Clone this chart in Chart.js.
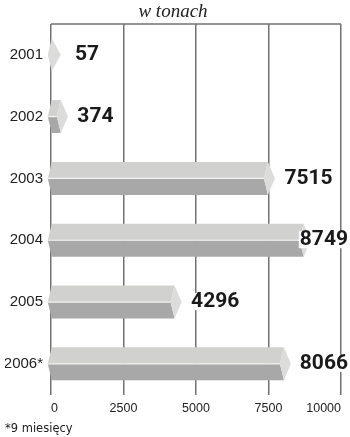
<!DOCTYPE html>
<html>
<head>
<meta charset="utf-8">
<script src="https://cdn.jsdelivr.net/npm/chart.js@4.4.6/dist/chart.umd.min.js"></script>
<style>
  html, body { margin: 0; padding: 0; background: #fff; }
  #wrap { width: 350px; height: 437px; }
</style>
</head>
<body>
<div id="wrap"><canvas id="chart"></canvas></div>
<script>
/* data */
const years = ['2001', '2002', '2003', '2004', '2005', '2006*'];
const tonnes = [57, 374, 7515, 8749, 4296, 8066];
const xTicks = [0, 2500, 5000, 7500, 10000];
const unitTitle = 'w tonach';
const footnote = '*9 miesięcy';

const gridColor = '#727272';

/* draws each bar as a grey hexagonal prism, then its value label */
const prismBars = {
  id: 'prismBars',
  beforeDatasetsDraw(chart) {
    const { ctx, chartArea } = chart;
    ctx.save();
    ctx.strokeStyle = gridColor;
    ctx.lineWidth = 1.5;
    ctx.beginPath();
    ctx.moveTo(chartArea.left, chartArea.top);
    ctx.lineTo(chartArea.right, chartArea.top);
    ctx.stroke();
    ctx.restore();
  },
  afterDatasetsDraw(chart) {
    const { ctx } = chart;
    const meta = chart.getDatasetMeta(0);
    ctx.save();
    meta.data.forEach((bar, i) => {
      const { x, y, base, height } = bar.getProps(['x', 'y', 'base', 'height'], true);
      const t = y - height / 2, bt = y + height / 2, d = 4;
      const xe = Math.max(x - 1, base);
      const tip = Math.max(x + 6, base + 9);

      // upper face
      ctx.fillStyle = '#d1d1cf';
      ctx.beginPath();
      ctx.moveTo(base, t);
      ctx.lineTo(xe, t);
      ctx.lineTo(xe - d, y);
      ctx.lineTo(base - d, y);
      ctx.closePath();
      ctx.fill();

      // lower face
      ctx.fillStyle = '#a8a8a8';
      ctx.beginPath();
      ctx.moveTo(base - d, y);
      ctx.lineTo(xe - d, y);
      ctx.lineTo(xe, bt);
      ctx.lineTo(base, bt);
      ctx.closePath();
      ctx.fill();

      // end face
      ctx.fillStyle = '#dcdcda';
      ctx.beginPath();
      ctx.moveTo(xe, t);
      ctx.lineTo(tip, y);
      ctx.lineTo(xe, bt);
      ctx.lineTo(xe - d, y);
      ctx.closePath();
      ctx.fill();

      // light edge between the faces
      ctx.strokeStyle = '#f4f4f4';
      ctx.lineWidth = 1.2;
      ctx.beginPath();
      ctx.moveTo(base - d, y);
      ctx.lineTo(xe - d, y);
      ctx.stroke();

      // value label
      const text = String(tonnes[i]);
      ctx.font = 'bold 21px Roboto';
      const w = ctx.measureText(text).width;
      let left = Math.max(x + 15.5, 75);
      left = Math.min(left, chart.width - 2 - w);
      ctx.fillStyle = '#fff';
      ctx.fillRect(left - 1, y - 9, w + 2, 17);
      ctx.fillStyle = '#1a1a1a';
      ctx.textAlign = 'left';
      ctx.textBaseline = 'middle';
      ctx.fillText(text, left, y);
    });
    ctx.restore();
  }
};

new Chart(document.getElementById('chart'), {
  type: 'bar',
  data: {
    labels: years,
    datasets: [{
      label: unitTitle,
      data: tonnes,
      backgroundColor: 'rgba(0,0,0,0)',
      borderWidth: 0,
      barThickness: 33
    }]
  },
  options: {
    indexAxis: 'y',
    responsive: true,
    maintainAspectRatio: false,
    animation: false,
    layout: { padding: { left: 5, right: 9, top: 0, bottom: 1 } },
    plugins: {
      legend: { display: false },
      tooltip: { enabled: false },
      title: {
        display: true,
        text: unitTitle,
        color: '#222',
        font: { family: 'Liberation Serif', size: 19, style: 'italic', weight: 'normal', lineHeight: 1.1 },
        padding: { top: 2, bottom: 1 }
      },
      subtitle: {
        display: true,
        text: footnote,
        position: 'bottom',
        align: 'start',
        color: '#222',
        font: { family: 'DejaVu Sans', size: 11.5, lineHeight: 1.15 },
        padding: 0
      }
    },
    scales: {
      x: {
        min: 0,
        max: 10000,
        afterBuildTicks: s => { s.ticks = xTicks.map(v => ({ value: v })); },
        afterFit: s => { s.height = 28; },
        grid: { color: gridColor, lineWidth: 1.5, drawTicks: false },
        border: { display: false },
        ticks: {
          color: '#222',
          align: 'inner',
          padding: 6,
          maxRotation: 0,
          callback: v => String(v),
          font: { family: 'Liberation Sans', size: 12.5 }
        }
      },
      y: {
        afterFit: s => { s.width = 46; },
        grid: { display: false, drawTicks: false },
        border: { display: false },
        ticks: {
          color: '#222',
          padding: 8,
          font: { family: 'Liberation Sans', size: 15 }
        }
      }
    }
  },
  plugins: [prismBars]
});
</script>
</body>
</html>
